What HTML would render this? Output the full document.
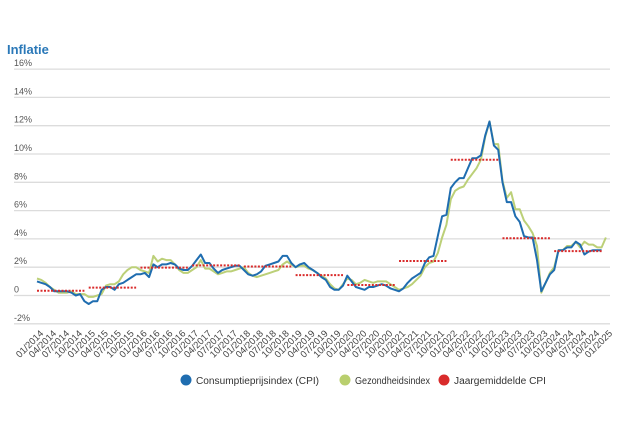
<!DOCTYPE html>
<html><head><meta charset="utf-8"><style>
html,body{margin:0;padding:0;background:#fff;}
body{width:626px;height:417px;overflow:hidden;font-family:"Liberation Sans",sans-serif;}
</style></head><body>
<svg id="c" width="626" height="417" xmlns="http://www.w3.org/2000/svg" font-family="Liberation Sans, sans-serif">
<text x="7" y="54" font-size="13" font-weight="bold" fill="#2a78b8">Inflatie</text>
<g id="grid"></g>
<g id="lab"></g>
<g id="ser"></g>
<g font-size="10" fill="#333">
<circle cx="186" cy="380" r="5.5" fill="#1f6db0"/><text x="196" y="384" textLength="123" lengthAdjust="spacingAndGlyphs">Consumptieprijsindex (CPI)</text>
<circle cx="345" cy="380" r="5.5" fill="#b9cf6e"/><text x="355" y="384" textLength="75" lengthAdjust="spacingAndGlyphs">Gezondheidsindex</text>
<circle cx="444" cy="380" r="5.5" fill="#d92b2b"/><text x="454" y="384" textLength="92" lengthAdjust="spacingAndGlyphs">Jaargemiddelde CPI</text>
</g>
</svg>
<script>
var NS="http://www.w3.org/2000/svg";
function el(p,t,a,txt){var e=document.createElementNS(NS,t);for(var k in a)e.setAttribute(k,a[k]);if(txt!=null)e.textContent=txt;document.getElementById(p).appendChild(e);return e;}
function X(i){return 37+i*4.31;}
function Y(v){return 295.5-v*14.15;}
for(var v=-2;v<=16;v+=2){var y=Y(v);
el("grid","line",{x1:14,x2:610,y1:y,y2:y,stroke:"#dcdcdc","stroke-width":1.3});
el("grid","text",{x:14,y:y-3,"font-size":9,fill:"#555"},v==0?"0":v+"%");}
var cpi=[1.0,0.9,0.8,0.6,0.3,0.3,0.3,0.3,0.2,0.0,0.1,-0.4,
-0.6,-0.4,-0.4,0.4,0.6,0.6,0.4,0.8,0.9,1.1,1.3,1.5,
1.5,1.6,1.3,2.2,2.0,2.2,2.2,2.3,2.2,1.9,1.8,1.8,
2.1,2.5,2.9,2.3,2.3,1.9,1.6,1.8,1.9,2.0,2.1,2.1,
1.8,1.5,1.4,1.5,1.7,2.1,2.2,2.3,2.4,2.8,2.8,2.3,
2.0,2.2,2.3,2.0,1.8,1.6,1.3,1.1,0.6,0.4,0.4,0.7,
1.4,1.0,0.6,0.5,0.4,0.6,0.6,0.7,0.8,0.7,0.5,0.4,
0.3,0.5,0.9,1.2,1.4,1.6,2.3,2.7,2.8,4.2,5.6,5.7,
7.6,8.0,8.3,8.3,9.0,9.7,9.7,9.9,11.3,12.3,10.6,10.3,
8.0,6.6,6.6,5.6,5.2,4.2,4.1,4.1,2.5,0.3,0.9,1.5,
1.8,3.2,3.2,3.4,3.4,3.8,3.6,2.9,3.1,3.2,3.2,3.2];
var hi=[1.2,1.1,0.9,0.6,0.4,0.2,0.2,0.2,0.3,0.1,0.1,0.1,
-0.1,-0.1,0.0,0.1,0.7,0.8,0.8,1.0,1.5,1.8,2.0,2.0,
1.8,1.7,1.6,2.8,2.4,2.6,2.5,2.5,2.2,1.8,1.6,1.6,
1.8,2.0,2.5,1.9,1.9,1.7,1.5,1.6,1.7,1.7,1.8,1.9,
2.0,1.6,1.4,1.3,1.4,1.5,1.6,1.7,1.8,2.2,2.4,2.2,
2.0,2.1,2.1,1.9,1.8,1.6,1.4,1.2,0.8,0.5,0.4,0.8,
1.2,1.1,0.8,0.9,1.1,1.0,0.9,1.0,1.0,1.0,0.8,0.6,
0.4,0.5,0.6,0.8,1.1,1.4,2.0,2.3,2.4,3.0,4.1,5.0,
6.8,7.4,7.6,7.7,8.2,8.6,9.0,9.6,11.2,12.3,10.7,10.7,
8.1,6.9,7.3,6.1,6.1,5.3,4.9,4.4,3.5,0.2,0.9,1.6,
2.0,3.2,3.2,3.5,3.5,3.8,3.4,3.8,3.6,3.6,3.4,3.4,4.1];
function pts(a){return a.map(function(v,i){return X(i).toFixed(1)+","+Y(v).toFixed(1);}).join(" ");}
el("ser","polyline",{points:pts(hi),fill:"none",stroke:"#bcd078","stroke-width":2,"stroke-linejoin":"round"});
el("ser","polyline",{points:pts(cpi),fill:"none",stroke:"#1f6db0","stroke-width":2,"stroke-linejoin":"round"});
var avg=[0.34,0.56,1.97,2.13,2.05,1.44,0.74,2.44,9.59,4.05,3.14];
avg.forEach(function(v,k){var y=Y(v);el("ser","line",{x1:X(k*12),x2:X(k*12+11),y1:y,y2:y,stroke:"#d92b2b","stroke-width":2,"stroke-dasharray":"2,1.5"});});
var mm=["01","04","07","10"];
for(var i=0;i<=132;i+=3){var yr=2014+Math.floor(i/12);var t=mm[(i%12)/3]+"/"+yr;
var x=X(i)+7,y=334;
el("lab","text",{x:x,y:y,"font-size":9.5,fill:"#444","text-anchor":"end",transform:"rotate(-45 "+x+" "+y+")"},t);}
</script>
</body></html>
